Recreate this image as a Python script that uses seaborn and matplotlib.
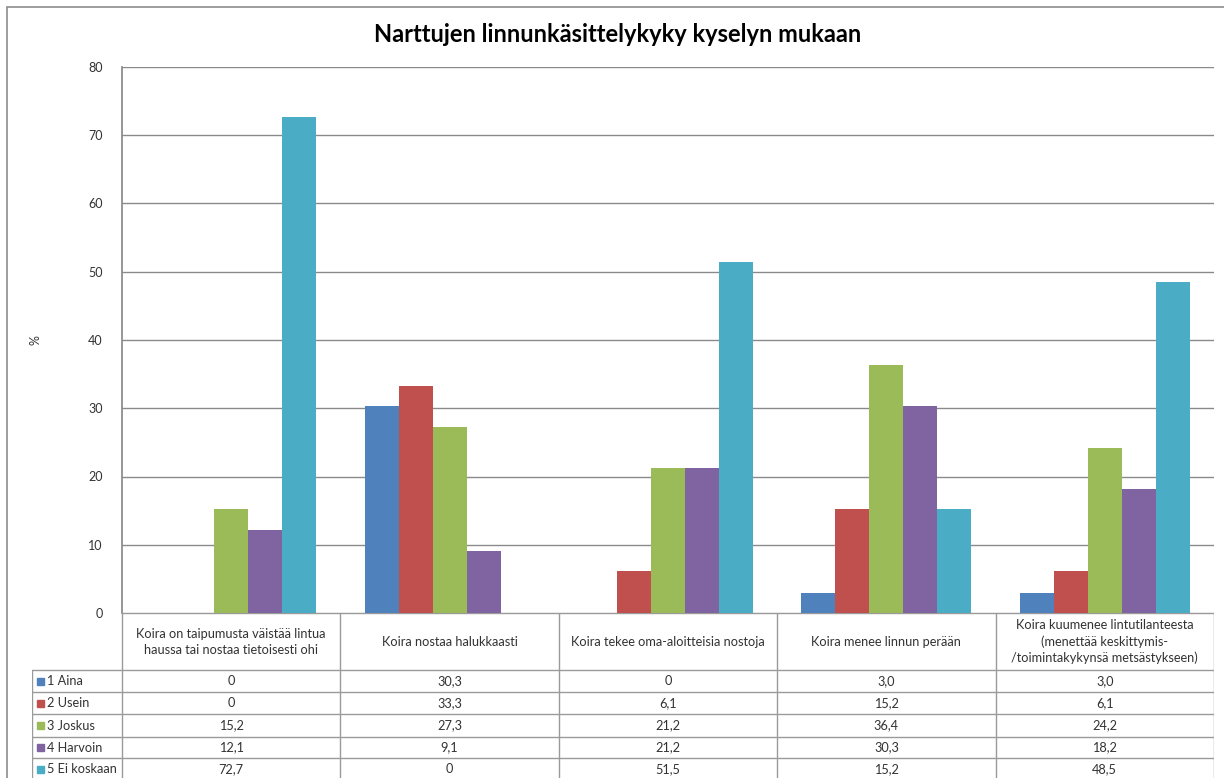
import numpy as np
import pandas as pd
import seaborn as sns
import matplotlib.pyplot as plt
from matplotlib.patches import Rectangle

kategoriat = [
    'Koira on taipumusta väistää lintua\nhaussa tai nostaa tietoisesti ohi',
    'Koira nostaa halukkaasti',
    'Koira tekee oma-aloitteisia nostoja',
    'Koira menee linnun perään',
    'Koira kuumenee lintutilanteesta\n(menettää keskittymis-\n/toimintakykynsä metsästykseen)',
]
vastaukset = ['1 Aina', '2 Usein', '3 Joskus', '4 Harvoin', '5 Ei koskaan']
aina = [0, 30.3, 0, 3.0, 3.0]
usein = [0, 33.3, 6.1, 15.2, 6.1]
joskus = [15.2, 27.3, 21.2, 36.4, 24.2]
harvoin = [12.1, 9.1, 21.2, 30.3, 18.2]
ei_koskaan = [72.7, 0, 51.5, 15.2, 48.5]
varit = ['#4F81BD', '#C0504D', '#9BBB59', '#8064A2', '#4BACC6']

sarjat = [aina, usein, joskus, harvoin, ei_koskaan]
df = pd.DataFrame([
    {'kategoria': k, 'vastaus': v, 'pros': arvot[i]}
    for v, arvot in zip(vastaukset, sarjat)
    for i, k in enumerate(kategoriat)
])

W, H = 1224, 778
sns.set_theme(style='white')
plt.rcParams['font.family'] = ['Lato', 'DejaVu Sans']
fig = plt.figure(figsize=(W / 100, H / 100), dpi=100)

# ulkokehys
fig.patches.append(Rectangle((7 / W, -0.05), 1.05, 1 - 7 / H + 0.05, transform=fig.transFigure,
                             fill=False, edgecolor='#8c8c8c', linewidth=1.2))

x0, x1, y_top, y_zero = 122, 1214, 67, 613
ax = fig.add_axes([x0 / W, 1 - y_zero / H, (x1 - x0) / W, (y_zero - y_top) / H])
sns.barplot(data=df, x='kategoria', y='pros', hue='vastaus', palette=varit,
            width=0.778, saturation=1, legend=False, ax=ax, linewidth=0)
ax.set_xlim(-0.5, 4.5)
ax.set_ylim(0, 80)
ax.set_yticks(range(0, 81, 10))
ax.yaxis.grid(True, color='#8a8a8a', linewidth=1)
ax.set_axisbelow(True)
ax.set_xticks([])
ax.set_xlabel('')
ax.set_ylabel('')
for s in ['top', 'right', 'bottom']:
    ax.spines[s].set_visible(False)
ax.spines['left'].set_color('#8a8a8a')
ax.tick_params(axis='y', length=0, pad=14, labelsize=9, labelcolor='#333333')
fig.text(35 / W, 1 - 340 / H, '%', rotation=90, ha='center', va='center', fontsize=9, color='#333333')

fig.text(618 / W, 1 - 34 / H, 'Narttujen linnunkäsittelykyky kyselyn mukaan',
         ha='center', va='center', fontsize=17, fontweight='bold', color='black')

# taulukko
leg_w = 90 / ((x1 - x0) / 5)
tx = fig.add_axes([32 / W, 0, (x1 - 32) / W, (H - y_zero) / H])
tx.set_xlim(-0.5 - leg_w, 4.5)
tx.set_ylim(H, y_zero)
tx.axis('off')
lc = '#9a9a9a'
rivit = [670, 692, 714, 737, 758, 780]
tx.plot([-0.5, 4.5], [y_zero, y_zero], color=lc, lw=1)
for r in rivit[:-1]:
    tx.plot([-0.5 - leg_w, 4.5], [r, r], color=lc, lw=1)
for c in np.arange(-0.5, 5.0, 1.0):
    tx.plot([c, c], [y_zero, H], color=lc, lw=1)
tx.plot([-0.5 - leg_w + 0.001, -0.5 - leg_w + 0.001], [rivit[0], H], color=lc, lw=1)

for i, k in enumerate(kategoriat):
    tx.text(i, (y_zero + rivit[0]) / 2, k, ha='center', va='center', fontsize=9.2,
            color='#333333', linespacing=1.4)

for j, (v, arvot) in enumerate(zip(vastaukset, sarjat)):
    yc = (rivit[j] + rivit[j + 1]) / 2
    tx.add_patch(Rectangle((-0.5 - leg_w + 0.025, yc - 3.5), 0.032, 7, color=varit[j], clip_on=False))
    tx.text(-0.5 - leg_w + 0.07, yc, v, ha='left', va='center', fontsize=9.2, color='#333333')
    for i, a in enumerate(arvot):
        teksti = '0' if a == 0 else f'{a:.1f}'.replace('.', ',')
        tx.text(i, yc, teksti, ha='center', va='center', fontsize=9.2, color='#333333')

fig.savefig('out.png', dpi=100)
